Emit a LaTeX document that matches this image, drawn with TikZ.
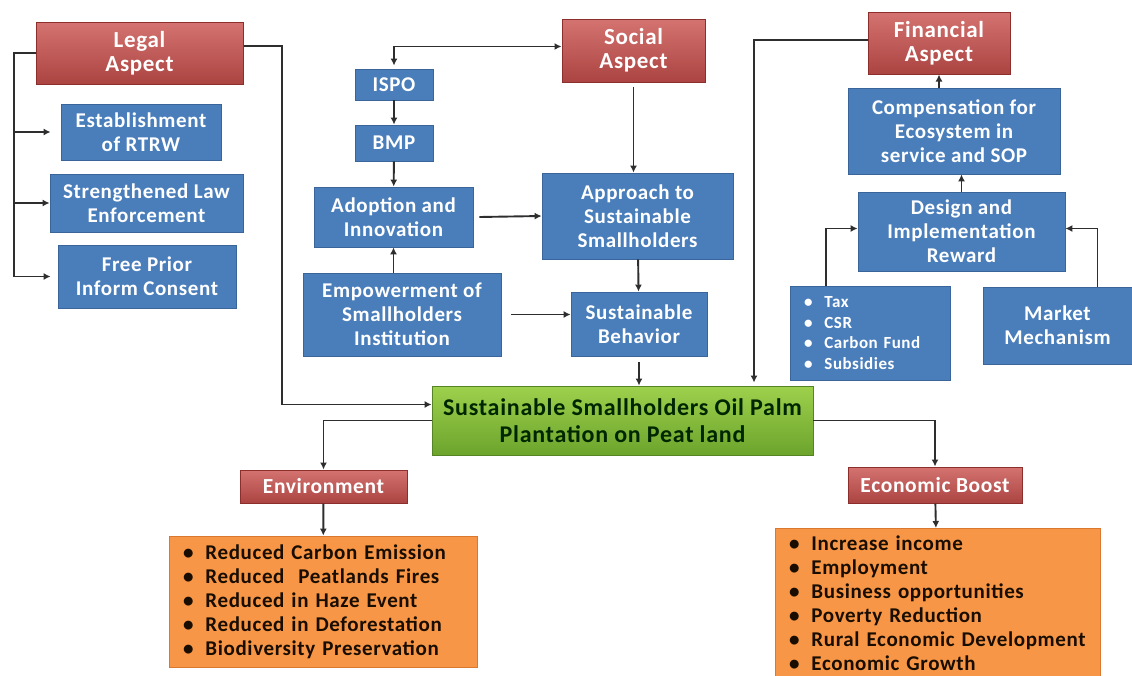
\documentclass[tikz,border=0pt]{standalone}
\usepackage{fontspec}
\setmainfont{Carlito}[LetterSpace=3]
\usetikzlibrary{arrows.meta}
\definecolor{redfill}{HTML}{C9504D}
\definecolor{redline}{HTML}{8C2E2C}
\definecolor{bluefill}{HTML}{4A7EBB}
\definecolor{blueline}{HTML}{3A659A}
\definecolor{orangefill}{HTML}{F79646}
\definecolor{orangeline}{HTML}{D9782E}
\definecolor{greentop}{HTML}{9DD04C}
\definecolor{greenbot}{HTML}{6CA42C}
\definecolor{linegray}{HTML}{2E2E2E}
\tikzset{
  redbox/.style={draw=redline, line width=1pt, top color=redfill!80!white, bottom color=redfill!85!black,
    text=white, align=center, inner sep=2pt, font=\bfseries\fontsize{23}{24}\selectfont},
  bluebox/.style={draw=blueline, line width=0.8pt, fill=bluefill, text=white, align=center,
    inner sep=2pt, font=\bfseries\fontsize{21}{24}\selectfont},
  greenbox/.style={draw=greenbot!80!black, line width=0.8pt, top color=greentop, bottom color=greenbot,
    text=black!85!green, align=center, font=\bfseries\fontsize{24}{27}\selectfont},
  orangebox/.style={draw=orangeline, line width=0.8pt, fill=orangefill, text=black!90!orange,
    align=left, inner xsep=14pt, inner ysep=4pt, font=\bfseries\fontsize{21}{24}\selectfont},
  arr/.style={draw=linegray, line width=1.9pt, -{Latex[length=7pt,width=7pt]}},
  arrboth/.style={draw=linegray, line width=1.9pt, {Latex[length=7pt,width=7pt]}-{Latex[length=7pt,width=7pt]}},
  link/.style={draw=linegray, line width=1.9pt}
}
\newcommand{\bul}{\textbullet\hspace{12pt}}
\begin{document}
\begin{tikzpicture}[x=1pt, y=-1pt]
\useasboundingbox (0,0) rectangle (1132,675);
% legal aspect
\node[redbox, minimum width=207, minimum height=62] (legal) at (139.5,53) {Legal\\Aspect};
\node[bluebox, minimum width=160, minimum height=56] (rtrw) at (141,132) {Establishment\\of RTRW};
\node[bluebox, minimum width=193, minimum height=58] (law) at (146.5,203) {Strengthened Law\\Enforcement};
\node[bluebox, minimum width=178, minimum height=63] (fpic) at (147,276.5) {Free Prior\\Inform Consent};
% social aspect
\node[redbox, minimum width=143, minimum height=63] (social) at (633.5,50.5) {Social\\Aspect};
\node[bluebox, minimum width=78, minimum height=31] (ispo) at (394,84.5) {ISPO};
\node[bluebox, minimum width=78, minimum height=36] (bmp) at (394,143) {BMP};
\node[bluebox, minimum width=159, minimum height=60] (adopt) at (393.5,217) {Adoption and\\Innovation};
\node[bluebox, minimum width=191, minimum height=86] (approach) at (637.5,216) {Approach to\\Sustainable\\Smallholders};
\node[bluebox, minimum width=198, minimum height=83] (empower) at (402,314.5) {Empowerment of\\Smallholders\\Institution};
\node[bluebox, minimum width=136, minimum height=64] (behavior) at (639,324) {Sustainable\\Behavior};
% financial aspect
\node[redbox, minimum width=142, minimum height=62] (financial) at (939,43) {Financial\\Aspect};
\node[bluebox, minimum width=212, minimum height=86] (comp) at (954,131) {Compensation for\\Ecosystem in\\service and SOP};
\node[bluebox, minimum width=207, minimum height=79] (design) at (961.5,231.5) {Design and\\Implementation\\Reward};
\node[bluebox, text width=132, inner xsep=14pt, minimum height=94, align=left,
  font=\bfseries\fontsize{17}{20.5}\selectfont] (tax) at (870,333)
  {\bul Tax\\\bul CSR\\\bul Carbon Fund\\\bul Subsidies};
\node[bluebox, minimum width=149, minimum height=77] (market) at (1057.5,325.5) {Market\\Mechanism};
% centre and outcomes
\node[greenbox, minimum width=381, minimum height=69] (plantation) at (622.5,420.5)
  {Sustainable Smallholders Oil Palm\\Plantation on Peat land};
\node[redbox, minimum width=167, minimum height=33, font=\bfseries\fontsize{21.5}{22}\selectfont] (env) at (323.5,486.5) {Environment};
\node[orangebox, text width=280, minimum height=131] (envlist) at (323,601.5)
  {\bul Reduced Carbon Emission\\\bul Reduced\ \ Peatlands Fires\\\bul Reduced in Haze Event\\\bul Reduced in Deforestation\\\bul Biodiversity Preservation};
\node[redbox, minimum width=174, minimum height=36, font=\bfseries\fontsize{21.5}{22}\selectfont] (econ) at (935,485) {Economic Boost};
\node[orangebox, text width=297, minimum height=150, anchor=north] (econlist) at (937.5,528)
  {\bul Increase income\\\bul Employment\\\bul Business opportunities\\\bul Poverty Reduction\\\bul Rural Economic Development\\\bul Economic Growth};
% connectors
\coordinate (lbar) at (14,53);
\draw[link] (legal.west) -- (lbar) -- (lbar |- fpic.west);
\draw[arr] (lbar |- rtrw.west) -- ([xshift=-10]rtrw.west);
\draw[arr] (lbar |- law.west) -- (law.west);
\draw[arr] (lbar |- fpic.west) -- ([xshift=-7]fpic.west);
\coordinate (rbar) at (282,46);
\draw[arr] ([yshift=7]legal.east) -- (rbar) |- ([yshift=16]plantation.west);
\draw[arrboth] ([yshift=3]ispo.north) |- ([yshift=4]social.west);
\draw[arr] (ispo) -- (bmp);
\draw[arr] (bmp) -- (adopt);
\draw[arr] (empower.north -| adopt.south) -- (adopt.south);
\draw[arr] ([xshift=6]adopt.east) -- (approach.west);
\draw[arr] ([yshift=-4]social.south) -- (social.south |- approach.north);
\draw[arr] (approach) -- (behavior);
\draw[arr] ([xshift=10]empower.east) -- (empower.east -| behavior.west);
\draw[arr] ([yshift=-6]behavior.south) -- (behavior.south |- plantation.north);
\coordinate (fbar) at (754,40);
\draw[arr] (financial.west |- fbar) -- (fbar) -- ([yshift=3]fbar |- plantation.north);
\draw[arr] (comp.north -| financial.south) -- (financial.south);
\draw[arr] (design.north) -- (design.north |- comp.south);
\draw[arr] ([xshift=-44]tax.north) |- ([yshift=3]design.west);
\draw[arr] ([xshift=40]market.north) |- ([yshift=3]design.east);
\draw[arr] (plantation.west) -| (env.north);
\draw[arr] (plantation.east) -| (econ.north);
\draw[arr] (env) -- (envlist);
\draw[arr] (econ) -- (econlist);
\end{tikzpicture}
\end{document}
